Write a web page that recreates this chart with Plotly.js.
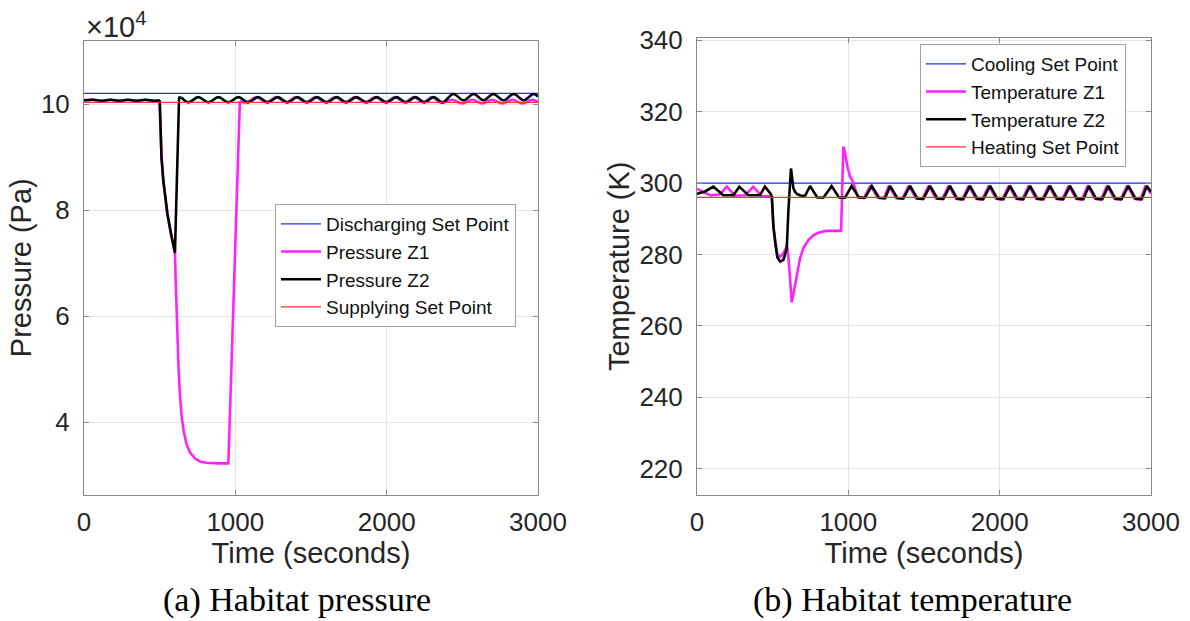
<!DOCTYPE html>
<html><head><meta charset="utf-8">
<script src="https://cdn.plot.ly/plotly-3.0.1.min.js"></script>
<style>html,body{margin:0;padding:0;background:#fff}#chart{width:1190px;height:621px}</style>
</head><body><div id="chart"></div>
<script>
// ---------- Data ----------
// Set points
const tSet = [0, 3000];
const pDischarge = [102000, 102000];   // Pa
const pSupply = [100300, 100300];      // Pa
const tCool = [300, 300];              // K
const tHeat = [296, 296];              // K

// Pressure, both zones before the event (0-500 s)
const tPre = [0, 60, 118, 175, 233, 290, 348, 405, 460, 500];
const pPre = [100700, 100800, 100600, 100800, 100600, 100800, 100600, 100800, 100600, 100700];

// Pressure Z2 event and recovery
const tP2Dip = [500, 505, 512, 524, 537, 551, 575, 601, 628, 630, 645];
const pP2Dip = [100700, 95000, 90000, 85600, 82000, 79300, 75500, 71900, 101000, 101200, 101200];
const tP2Post = [645, 690, 755, 822, 888, 954, 1020, 1085, 1150, 1215, 1280, 1345, 1410, 1475, 1540, 1605, 1670, 1735, 1800, 1868, 1935, 2000, 2065, 2128, 2190, 2250, 2310, 2370, 2440, 2508, 2575, 2640, 2705, 2772, 2840, 2905, 2970, 3000];
const pP2Post = [101200, 100300, 101300, 100300, 101300, 100300, 101300, 100300, 101300, 100300, 101300, 100300, 101300, 100300, 101300, 100300, 101300, 100300, 101300, 100300, 101300, 100300, 101300, 100300, 101300, 100300, 101300, 100300, 101900, 100700, 101900, 100700, 101900, 100700, 101900, 100700, 101900, 101400];

// Pressure Z1 event and recovery
const tP1Dip = [500, 505, 512, 524, 537, 551, 575, 601, 606, 612, 618, 625, 633, 645, 660, 678, 700, 734, 770, 811, 880, 954, 1030];
const pP1Dip = [100700, 95000, 90000, 85600, 82000, 79300, 75500, 72000, 66500, 60300, 55000, 50000, 45500, 41200, 38000, 35800, 34300, 33100, 32500, 32300, 32200, 32200, 100500];
const tP1Post = [1030, 1075, 1140, 1205, 1270, 1335, 1400, 1465, 1530, 1595, 1660, 1725, 1790, 1858, 1925, 1990, 2055, 2118, 2180, 2240, 2300, 2362, 2430, 2500, 2565, 2632, 2695, 2764, 2830, 2897, 2960, 3000];
const pP1Post = [100500, 100300, 101300, 100300, 101300, 100300, 101300, 100300, 101300, 100300, 101300, 100300, 101300, 100300, 101300, 100300, 101300, 100300, 101300, 100300, 101300, 100200, 100800, 100100, 100800, 100100, 100800, 100100, 100800, 100100, 100800, 100400];

// Temperature Z2
const tT2Pre = [0, 50, 108, 174, 240, 280, 339, 416, 449, 494];
const vT2Pre = [297.0, 297.6, 299.0, 296.6, 296.6, 299.0, 296.6, 296.6, 299.0, 296.6];
const tT2Dip = [494, 505, 518, 531, 549, 571, 593, 604, 621, 637, 654];
const vT2Dip = [296.6, 287.7, 283.0, 279.2, 278.0, 278.5, 281.6, 292.4, 304.1, 298.5, 297.1];
const tT2Post = [654, 690, 715, 747, 795, 835, 890, 938, 978, 1022, 1070, 1110, 1155, 1203, 1243, 1276, 1324, 1364, 1408, 1456, 1496, 1540, 1588, 1628, 1672, 1720, 1760, 1804, 1852, 1892, 1937, 1985, 2025, 2069, 2117, 2157, 2201, 2249, 2289, 2333, 2381, 2421, 2465, 2513, 2553, 2590, 2638, 2678, 2718, 2766, 2806, 2851, 2899, 2939, 2972, 3000];
const vT2Post = [297.1, 296.4, 296.5, 299.2, 296.0, 295.9, 299.2, 296.0, 295.9, 299.2, 296.0, 295.9, 299.2, 295.9, 295.8, 299.2, 295.8, 295.7, 299.2, 295.7, 295.6, 299.2, 295.7, 295.6, 299.2, 295.6, 295.5, 299.2, 295.6, 295.5, 299.2, 295.6, 295.5, 299.2, 295.6, 295.5, 299.2, 295.6, 295.5, 299.2, 295.6, 295.5, 299.2, 295.6, 295.5, 299.2, 295.6, 295.5, 299.2, 295.6, 295.5, 299.2, 295.6, 295.5, 299.2, 297.6];

// Temperature Z1
const tT1Pre = [0, 86, 150, 196, 251, 320, 372, 427, 494];
const vT1Pre = [298.4, 296.6, 296.8, 299.0, 296.5, 296.6, 299.0, 296.3, 296.4];
const tT1Dip = [494, 505, 518, 531, 549, 571, 593, 600, 612, 626, 640, 659, 680, 703, 735, 769, 810, 857, 952, 958, 967, 978, 992, 1010, 1033];
const vT1Dip = [296.4, 288.0, 283.5, 280.0, 279.3, 280.3, 282.3, 281.0, 275.0, 266.6, 269.5, 274.5, 278.8, 281.8, 284.0, 285.4, 286.2, 286.6, 286.6, 296.0, 310.2, 308.5, 305.0, 302.0, 300.2];
const tT1Post = [1033, 1062, 1102, 1147, 1195, 1235, 1268, 1316, 1356, 1400, 1448, 1488, 1532, 1580, 1620, 1664, 1712, 1752, 1796, 1844, 1884, 1929, 1977, 2017, 2061, 2109, 2149, 2193, 2241, 2281, 2325, 2373, 2413, 2457, 2505, 2545, 2582, 2630, 2670, 2710, 2758, 2798, 2843, 2891, 2931, 2964, 3000];
const vT1Post = [300.2, 296.0, 295.8, 299.3, 295.9, 295.7, 299.3, 295.8, 295.6, 299.3, 295.7, 295.5, 299.3, 295.7, 295.5, 299.3, 295.6, 295.4, 299.3, 295.6, 295.4, 299.3, 295.6, 295.4, 299.3, 295.6, 295.4, 299.3, 295.6, 295.4, 299.3, 295.6, 295.4, 299.3, 295.6, 295.4, 299.3, 295.6, 295.4, 299.3, 295.6, 295.4, 299.3, 295.6, 295.4, 299.3, 297.0];

// Labels
const pNames = ['Discharging Set Point', 'Pressure Z1', 'Pressure Z2', 'Supplying Set Point'];
const tNames = ['Cooling Set Point', 'Temperature Z1', 'Temperature Z2', 'Heating Set Point'];
const pTickVals = [40000, 60000, 80000, 100000];
const pTickText = ['4', '6', '8', '10'];
const tTickVals = [220, 240, 260, 280, 300, 320, 340];
const xTickVals = [0, 1000, 2000, 3000];

// ---------- Styles ----------
const BLUE = '#2b2bff', MAG = '#ff22ff', BLK = '#000000', RED = '#ff3030';
const W = 1190, H = 621;

function tr(x, y, color, width, shape, name, legend, axn, show) {
  return {
    type: 'scatter', mode: 'lines', x: x, y: y, name: name,
    line: {color: color, width: width, shape: shape, smoothing: 1},
    xaxis: axn === 1 ? 'x' : 'x2', yaxis: axn === 1 ? 'y' : 'y2',
    legend: legend, showlegend: show, hoverinfo: 'skip'
  };
}

const data = [
  tr(tSet, pDischarge, BLUE, 1.3, 'linear', pNames[0], 'legend', 1, true),
  tr(tPre, pPre, MAG, 2.6, 'spline', pNames[1], 'legend', 1, true),
  tr(tP1Dip, pP1Dip, MAG, 2.6, 'linear', pNames[1], 'legend', 1, false),
  tr(tP1Post, pP1Post, MAG, 2.6, 'spline', pNames[1], 'legend', 1, false),
  tr(tPre, pPre, BLK, 2.6, 'spline', pNames[2], 'legend', 1, true),
  tr(tP2Dip, pP2Dip, BLK, 2.6, 'linear', pNames[2], 'legend', 1, false),
  tr(tP2Post, pP2Post, BLK, 2.6, 'spline', pNames[2], 'legend', 1, false),
  tr(tSet, pSupply, RED, 1.3, 'linear', pNames[3], 'legend', 1, true),

  tr(tSet, tCool, BLUE, 1.3, 'linear', tNames[0], 'legend2', 2, true),
  tr(tT1Pre, vT1Pre, MAG, 2.6, 'linear', tNames[1], 'legend2', 2, true),
  tr(tT1Dip, vT1Dip, MAG, 2.6, 'linear', tNames[1], 'legend2', 2, false),
  tr(tT1Post, vT1Post, MAG, 2.6, 'linear', tNames[1], 'legend2', 2, false),
  tr(tT2Pre, vT2Pre, BLK, 2.6, 'linear', tNames[2], 'legend2', 2, true),
  tr(tT2Dip, vT2Dip, BLK, 2.6, 'linear', tNames[2], 'legend2', 2, false),
  tr(tT2Post, vT2Post, BLK, 2.6, 'linear', tNames[2], 'legend2', 2, false),
  tr(tSet, tHeat, RED, 1.3, 'linear', tNames[3], 'legend2', 2, true)
];

const FONT = 'Liberation Sans, Arial, Helvetica, sans-serif';
const tickFont = {family: FONT, size: 26, color: '#262626'};
const titleFont = {family: FONT, size: 29, color: '#262626'};

function xax(domain) {
  return {
    domain: domain, range: [0, 3000], tickvals: xTickVals,
    ticks: 'inside', ticklen: 5, tickcolor: '#8a8a8a', tickwidth: 1,
    showline: true, linecolor: '#8a8a8a', linewidth: 1, mirror: 'ticks',
    showgrid: true, gridcolor: '#e4e4e4', gridwidth: 1, zeroline: false,
    tickfont: tickFont, ticklabelstandoff: 4,
    title: {text: 'Time (seconds)', font: titleFont, standoff: 0}
  };
}
function yax(domain, range, tv, tt, title, standoff, anchor) {
  const a = {
    domain: domain, range: range, tickvals: tv,
    ticks: 'inside', ticklen: 5, tickcolor: '#8a8a8a', tickwidth: 1,
    showline: true, linecolor: '#8a8a8a', linewidth: 1, mirror: 'ticks',
    showgrid: true, gridcolor: '#e4e4e4', gridwidth: 1, zeroline: false,
    tickfont: tickFont, ticklabelstandoff: 8, anchor: anchor,
    title: {text: title, font: titleFont, standoff: standoff}
  };
  if (tt) a.ticktext = tt;
  return a;
}

const legendBase = {
  xanchor: 'left', yanchor: 'top', bgcolor: '#ffffff',
  bordercolor: '#a0a0a0', borderwidth: 1,
  font: {family: FONT, size: 19, color: '#111111'},
  itemwidth: 40, tracegroupgap: 0
};

const layout = {
  width: W, height: H, margin: {l: 0, r: 0, t: 0, b: 0},
  paper_bgcolor: '#ffffff', plot_bgcolor: '#ffffff',
  showlegend: true,
  xaxis: Object.assign(xax([84 / W, 538 / W]), {anchor: 'y'}),
  yaxis: yax([1 - 495 / H, 1 - 40.5 / H], [26230, 111980], pTickVals, pTickText, 'Pressure (Pa)', 0, 'x'),
  xaxis2: Object.assign(xax([697 / W, 1151 / W]), {anchor: 'y2'}),
  yaxis2: yax([1 - 495 / H, 1 - 37.5 / H], [212.6, 340.8], tTickVals, null, 'Temperature (K)', 1, 'x2'),
  legend: Object.assign({}, legendBase, {x: 275 / W, y: 1 - 204 / H}),
  legend2: Object.assign({}, legendBase, {x: 920 / W, y: 1 - 44 / H}),
  annotations: [
    {xref: 'paper', yref: 'paper', x: 84 / W, y: 1 - 25 / H, xanchor: 'left', yanchor: 'middle',
     text: '×10<sup>4</sup>', showarrow: false, font: {family: FONT, size: 29, color: '#262626'}},
    {xref: 'paper', yref: 'paper', x: 297 / W, y: 1 - 600 / H, xanchor: 'center', yanchor: 'middle',
     text: '(a) Habitat pressure', showarrow: false, font: {family: 'Liberation Serif, Times New Roman, serif', size: 34, color: '#000'}},
    {xref: 'paper', yref: 'paper', x: 912 / W, y: 1 - 600 / H, xanchor: 'center', yanchor: 'middle',
     text: '(b) Habitat temperature', showarrow: false, font: {family: 'Liberation Serif, Times New Roman, serif', size: 34, color: '#000'}}
  ]
};

Plotly.newPlot('chart', data, layout, {displayModeBar: false, staticPlot: true});
</script></body></html>
